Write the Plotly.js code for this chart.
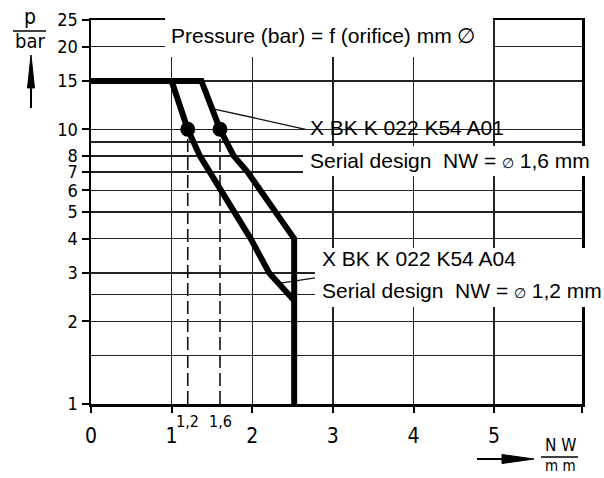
<!DOCTYPE html>
<html>
<head>
<meta charset="utf-8">
<script src="https://cdn.plot.ly/plotly-3.0.1.min.js"></script>
<style>html,body{margin:0;padding:0;background:#fff;}#chart{width:604px;height:478px;}</style>
</head>
<body>
<div id="chart"></div>
<script>
// ---- data ----
const xTickVals = [0, 1, 2, 3, 4, 5, 6.09];
const xTickText = ['0', '1', '2', '3', '4', '5', ''];
const yTickVals = [1, 2, 3, 4, 5, 6, 7, 8, 10, 15, 20, 25];
const yTickText = ['1', '2', '3', '4', '5', '6', '7', '8', '10', '15', '20', '25'];
const yMinorGrid = [1.5, 2.5, 9];

// X BK K 022 K54 A01 (NW 1,6 mm)
const a01X = [0, 1.37, 1.6, 1.77, 1.94, 2.10, 2.30, 2.52, 2.52];
const a01Y = [15, 15, 10, 8, 7, 6, 5, 4, 1];
// X BK K 022 K54 A04 (NW 1,2 mm)
const a04X = [1.0, 1.2, 1.35, 1.47, 1.61, 1.77, 1.98, 2.21, 2.47, 2.52];
const a04Y = [15, 10, 8, 7, 6, 5, 4, 3, 2.5, 2.38];

const pointX = [1.2, 1.6];
const pointY = [10, 10];
const dash12X = [1.2, 1.2], dash12Y = [1, 10];
const dash16X = [1.6, 1.6], dash16Y = [1, 10];
const leaderA01X = [1.50, 2.66], leaderA01Y = [11.9, 10];
const leaderA04X = [2.33, 2.82], leaderA04Y = [2.75, 2.89];

// ---- layout helpers (pixel -> paper) ----
const L = 91, R = 582, T = 20, B = 404;
const px = v => (v - L) / (R - L);
const py = v => (B - v) / (B - T);

const numFont = "'Liberation Sans Narrow', 'DejaVu Sans Condensed', sans-serif";
const txtFont = "Arial, 'Liberation Sans', sans-serif";

const traces = [
  {x: dash12X, y: dash12Y, mode: 'lines', line: {color: '#111', width: 1.6, dash: '13px,5px'}, hoverinfo: 'skip'},
  {x: dash16X, y: dash16Y, mode: 'lines', line: {color: '#111', width: 1.6, dash: '13px,5px'}, hoverinfo: 'skip'},
  {x: leaderA01X, y: leaderA01Y, mode: 'lines', line: {color: '#111', width: 1.4}, hoverinfo: 'skip'},
  {x: leaderA04X, y: leaderA04Y, mode: 'lines', line: {color: '#111', width: 1.4}, hoverinfo: 'skip'},
  {x: a01X, y: a01Y, mode: 'lines', line: {color: '#000', width: 6}, hoverinfo: 'skip'},
  {x: a04X, y: a04Y, mode: 'lines', line: {color: '#000', width: 6}, hoverinfo: 'skip'},
  {x: pointX, y: pointY, mode: 'markers', marker: {color: '#000', size: 15}, hoverinfo: 'skip'}
];

const box = (x0, x1, y0, y1, layer) => ({type: 'rect', xref: 'paper', yref: 'paper',
  x0: px(x0), x1: px(x1), y0: py(y1), y1: py(y0), fillcolor: '#fff', line: {width: 0}, layer: layer});
const path = (pts) => ({type: 'path', xref: 'paper', yref: 'paper', layer: 'above',
  path: 'M ' + pts.map(p => px(p[0]) + ' ' + py(p[1])).join(' L ') + ' Z',
  fillcolor: '#000', line: {color: '#000', width: 1}});
const seg = (x0, y0, x1, y1, w) => ({type: 'line', xref: 'paper', yref: 'paper', layer: 'above',
  x0: px(x0), y0: py(y0), x1: px(x1), y1: py(y1), line: {color: '#000', width: w}});

const shapes = [
  box(165, 493, 17, 57, 'above'),
  box(273, 578, 105, 133, 'between'),
  box(290, 578, 133, 146, 'between'),
  box(303, 597, 146, 176, 'above'),
  box(315, 600, 248, 307, 'above'),
  // y-axis arrow
  seg(31, 108, 31, 86, 2),
  path([[27.5, 88], [34.5, 88], [31, 55]]),
  // x-axis arrow
  seg(477, 459, 504, 459, 2),
  path([[502, 454.5], [502, 463.5], [534, 459]]),
  // fraction bars
  seg(13, 31, 46, 31, 1.5),
  seg(541, 457, 578, 457, 1.5)
];

const ann = (text, x, y, size, family, xanchor, xref) => ({
  text: text, x: x, y: y, xref: xref || 'paper', yref: 'paper', xanchor: xanchor || 'left', yanchor: 'middle',
  showarrow: false, font: {family: family, size: size, color: '#000'}, borderpad: 0
});

const annotations = [
  ann('Pressure (bar) = f (orifice) mm \u2205', px(170), py(36), 21, txtFont),
  ann('X BK K 022 K54 A01', px(309), py(127), 21, txtFont),
  ann('Serial design\u00a0 NW = <span style="font-size:14px">\u2205</span> 1,6 mm', px(309), py(160), 21, txtFont),
  ann('X BK K 022 K54 A04', px(321), py(258), 21, txtFont),
  ann('Serial design\u00a0 NW = <span style="font-size:14px">\u2205</span> 1,2 mm', px(321), py(290), 21, txtFont),
  ann('1,2', 1.2, py(421), 16, numFont, 'center', 'x'),
  ann('1,6', 1.6, py(421), 16, numFont, 'center', 'x'),
  ann('p', px(30), py(17), 21, numFont, 'center'),
  ann('bar', px(30), py(41), 20, numFont, 'center'),
  ann('N W', px(560), py(445), 17, numFont, 'center'),
  ann('m m', px(560), py(466), 15, numFont, 'center')
];

const layout = {
  width: 604, height: 478,
  margin: {l: L, r: 604 - R, t: T, b: 478 - B},
  paper_bgcolor: '#fff', plot_bgcolor: '#fff',
  showlegend: false,
  xaxis: {
    range: [0, 6.09], tickmode: 'array', tickvals: xTickVals, ticktext: xTickText,
    ticks: 'outside', ticklen: 6, tickwidth: 2, tickcolor: '#000',
    showgrid: true, gridcolor: '#222', gridwidth: 1.5,
    showline: true, linecolor: '#000', linewidth: 2.5, mirror: true, zeroline: false,
    tickfont: {family: numFont, size: 21, color: '#000'}, ticklabelstandoff: 5, fixedrange: true
  },
  yaxis: {
    type: 'log', range: [0, Math.log10(25)], tickmode: 'array', tickvals: yTickVals, ticktext: yTickText,
    ticks: 'outside', ticklen: 7, tickwidth: 2, tickcolor: '#000',
    showgrid: true, gridcolor: '#222', gridwidth: 1.5,
    minor: {tickmode: 'array', tickvals: yMinorGrid, showgrid: true, gridcolor: '#222', gridwidth: 1.5, ticks: ''},
    showline: true, linecolor: '#000', linewidth: 2.5, mirror: true, zeroline: false,
    tickfont: {family: numFont, size: 18, color: '#000'}, fixedrange: true
  },
  shapes: shapes,
  annotations: annotations
};

Plotly.newPlot('chart', traces, layout, {staticPlot: true, displayModeBar: false});
</script>
</body>
</html>
